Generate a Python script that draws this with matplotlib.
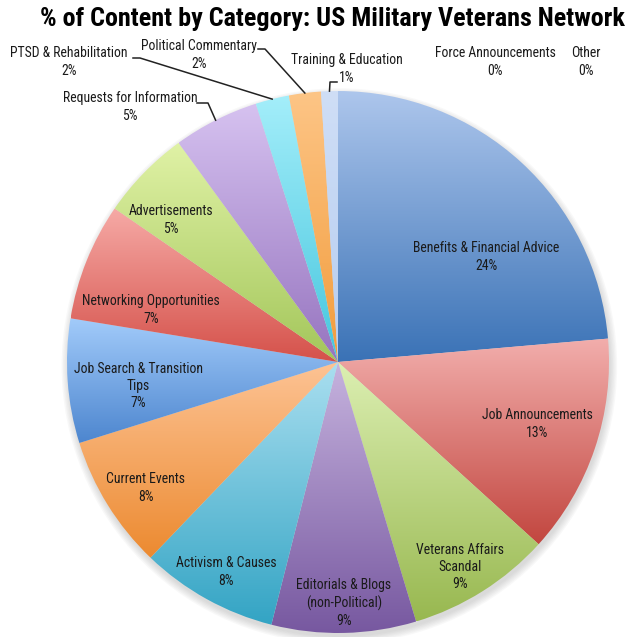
import numpy as np
import matplotlib
matplotlib.use("Agg")
import matplotlib.pyplot as plt
from matplotlib import font_manager
from matplotlib.colors import to_rgb
from matplotlib.patches import Circle

# share of posts per content category (clockwise from 12 o'clock)
categories = [
    "Benefits & Financial Advice", "Job Announcements", "Veterans Affairs Scandal",
    "Editorials & Blogs (non-Political)", "Activism & Causes", "Current Events",
    "Job Search & Transition Tips", "Networking Opportunities", "Advertisements",
    "Requests for Information", "PTSD & Rehabilitation", "Political Commentary",
    "Training & Education", "Force Announcements", "Other",
]
shares = [23.6, 13.1, 8.6, 8.6, 8.2, 8.0, 7.4, 7.0, 5.4, 5.1, 2.0, 1.9, 1.0, 0.0, 0.0]

# how each category name is wrapped on the chart
label_names = [
    "Benefits & Financial Advice", "Job Announcements", "Veterans Affairs\nScandal",
    "Editorials & Blogs\n(non-Political)", "Activism & Causes", "Current Events",
    "Job Search & Transition\nTips", "Networking Opportunities", "Advertisements",
    "Requests for Information", "PTSD & Rehabilitation", "Political Commentary",
    "Training & Education", "Force Announcements", "Other",
]

# gradient colours, light at the top of each wedge, dark at the bottom
top_colors = ["#adc6ec", "#f2aeac", "#dcefb2", "#c6b3de", "#aadff0", "#fdc394",
              "#a2cbfa", "#f6aaa6", "#e0f2a6", "#d6c2f0", "#a4eefa", "#fdc586",
              "#cfdef6", "#f2aeac", "#dcefb2"]
bottom_colors = ["#3a72b6", "#c2463f", "#98b850", "#7758a0", "#33a4c4", "#ec8a30",
                 "#4d86cf", "#d5514a", "#a3c65a", "#9674bf", "#46c6de", "#f29c3c",
                 "#b6cdf0", "#c2463f", "#98b850"]

# pixel layout: pie centre/radius, label centres and leader-line elbows
CX, CY, R = 338, 362, 271
W, H = 634, 637
label_pos = [(486, 257), (537, 424), (460, 567), (344, 603), (226, 572),
             (146, 488), (138, 386), (151, 310), (171, 220), (130, 107),
             (69, 62), (199, 55), (347, 69), (495, 62), (586, 62)]
leaders = {9: [(197, 103), (208, 103)],
           10: [(133, 58), (140, 58)],
           11: [(258, 49), (265, 49)],
           12: [(337, 82), (330, 82)]}


def px(x, y):
    return (x - CX) / R, (CY - y) / R


# prefer a narrow sans; otherwise shrink regular Liberation Sans to the same width
installed = {f.name for f in font_manager.fontManager.ttflist}
narrow = [n for n in ["Liberation Sans Narrow", "Roboto Condensed", "Open Sans Condensed"]
          if n in installed]
if narrow:
    font = [narrow[0], "DejaVu Sans"]
    label_size, title_size, spacing = 9.9, 18.8, 1.3
else:
    font = ["Liberation Sans", "DejaVu Sans"]
    label_size, title_size, spacing = 8.8, 15.2, 1.45

fig = plt.figure(figsize=(W / 100, H / 100), dpi=100)
ax = fig.add_axes([0, 0, 1, 1])
ax.set_axis_off()

# soft drop shadow under the pie
for k in range(6):
    ax.add_patch(Circle((0.005, -0.015), 1.0 + 0.005 * k, color="#808080",
                        alpha=0.05, lw=0, zorder=0))

wedges, _ = ax.pie(shares, startangle=90, counterclock=False, radius=1.0,
                   wedgeprops=dict(linewidth=0), normalize=True)

for w, c1, c2 in zip(wedges, top_colors, bottom_colors):
    if abs(w.theta2 - w.theta1) < 1e-6:
        w.set_visible(False)
        continue
    w.set_facecolor("none")
    bb = w.get_path().get_extents()
    t = np.linspace(0, 1, 256)[:, None]
    grad = (1 - t) * np.array(to_rgb(c1)) + t * np.array(to_rgb(c2))
    im = ax.imshow(grad[:, None, :], extent=(bb.x0, bb.x1, bb.y0, bb.y1),
                   origin="upper", aspect="auto", interpolation="bilinear", zorder=1)
    im.set_clip_path(w)

total = sum(shares)
for i, (name, v) in enumerate(zip(label_names, shares)):
    x, y = px(*label_pos[i])
    ax.text(x, y, f"{name}\n{v / total * 100:.0f}%", ha="center", va="center",
            multialignment="center", fontsize=label_size, family=font,
            color="#1a1a1a", linespacing=spacing, zorder=5)

# leader lines from outside labels to the middle of their wedge
for i, pts in leaders.items():
    w = wedges[i]
    mid = np.deg2rad((w.theta1 + w.theta2) / 2)
    xs = [px(*p)[0] for p in pts] + [np.cos(mid)]
    ys = [px(*p)[1] for p in pts] + [np.sin(mid)]
    ax.plot(xs, ys, color="#222222", lw=1.1, zorder=4)

ax.set_xlim(-CX / R, (W - CX) / R)
ax.set_ylim((CY - H) / R, CY / R)

fig.text(332 / W, 1 - 19 / H, "% of Content by Category: US Military Veterans Network",
         ha="center", va="center", fontsize=title_size, fontweight="bold", family=font)

fig.savefig("out.png", dpi=100, facecolor="white")
